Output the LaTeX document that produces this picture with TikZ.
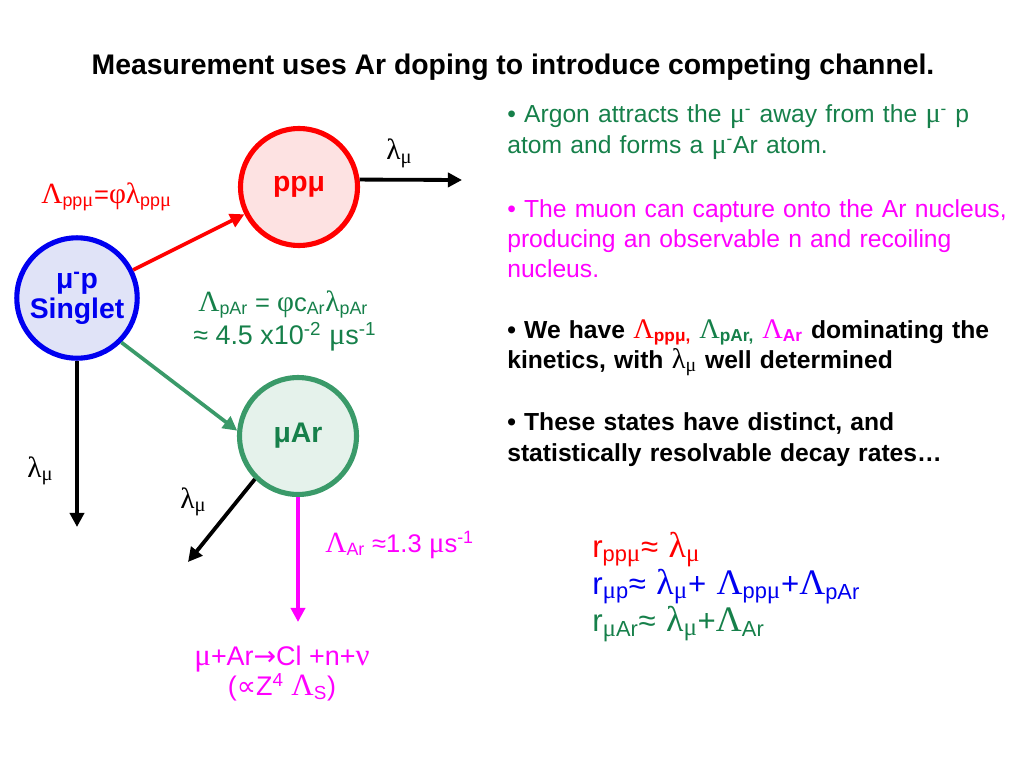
\documentclass[tikz,border=0pt]{standalone}
\usepackage{fontspec}
\setmainfont{Liberation Sans}
\newfontfamily\grk[Scale=1.15]{Liberation Serif}
\newfontfamily\symfont{DejaVu Sans}
\usetikzlibrary{positioning,arrows.meta}

\definecolor{pinkfill}{HTML}{FDE2E2}
\definecolor{bluefill}{HTML}{E0E3F7}
\definecolor{greenfill}{HTML}{E5F2EB}
\definecolor{ringgreen}{HTML}{3A9A69}
\definecolor{textgreen}{HTML}{16804A}
\definecolor{pureblue}{HTML}{0000F0}
\definecolor{capmagenta}{HTML}{FF00FF}

\newcommand{\gk}[1]{{\grk\mdseries #1}}
\newcommand{\lo}[1]{\textsubscript{#1}}
\newcommand{\hi}[1]{\textsuperscript{#1}}

\begin{document}
\begin{tikzpicture}[x=0.0248cm, y=-0.0248cm,
    atom/.style={circle, line width=3.6pt, minimum size=2.9cm, align=center,
      font=\bfseries\fontsize{20}{20.5}\selectfont},
    decay/.style={line width=2.7pt, -{Triangle[length=10pt,width=10pt]}},
    lab/.style={anchor=base west, inner sep=0pt, font=\fontsize{18}{21}\selectfont},
    body/.style={anchor=base west, inner sep=0pt, align=left, text width=13cm,
      font=\fontsize{17.4}{21.2}\selectfont}]
  \useasboundingbox (0,0) rectangle (1024,768);

  % Add title
  \node[anchor=base] (title) at (513,75)
    {\bfseries\fontsize{20}{24}\selectfont Measurement uses Ar doping to introduce competing channel.};

  % Create the three atomic states
  \node[atom, draw=red, fill=pinkfill, text=red] (ppm) at (299,187) {ppμ};
  \node[atom, draw=pureblue, fill=bluefill, text=pureblue] (sing) at (77,298) {μ\hi{-}p\\Singlet};
  \node[atom, draw=ringgreen, fill=greenfill, text=textgreen] (mar) at (298,436) {μAr};

  \coordinate (ppmend) at (462,180);
  \coordinate (singend) at (77,527);
  \coordinate (marend) at (188,562);
  \coordinate (capend) at (298,622);

  % Add transfer and decay arrows
  \draw[decay, red, line width=2.6pt] (sing) -- (ppm);
  \draw[decay, ringgreen, line width=2.6pt] (sing.-45) -- (mar.175);
  \draw[decay] (ppm.7) -- (ppmend);
  \draw[decay] (sing) -- (singend);
  \draw[decay] (mar.-135) -- (marend);
  \draw[decay, capmagenta, line width=3.3pt] (mar) -- (capend);

  % Add rate labels
  \node[lab] (lamppm) at (386,160) {\gk{λ}\lo{\gk{μ}}};
  \node[lab] (lamsing) at (27,477) {\gk{λ}\lo{\gk{μ}}};
  \node[lab] (lammar) at (180,508) {\gk{λ}\lo{\gk{μ}}};
  \node[lab, text=red] (rateppm) at (41,203)
    {\gk{Λ}\lo{pp\gk{μ}}=\gk{φλ}\lo{pp\gk{μ}}};
  \node[lab, text=textgreen] (ratepar) at (198,311)
    {\gk{Λ}\lo{pAr} = \gk{φ}c\lo{Ar}\gk{λ}\lo{pAr}};
  \node[lab, text=textgreen, font=\fontsize{19}{21}\selectfont] (ratevalue) at (193,344)
    {≈ 4.5 x10\hi{-2} \gk{μ}s\hi{-1}};
  \node[lab, text=capmagenta] (ratear) at (325,552)
    {\gk{Λ}\lo{Ar} ≈1.3 \gk{μ}s\hi{-1}};
  \node[lab, anchor=base, text=capmagenta, font=\fontsize{19}{21}\selectfont] (capture) at (282,665)
    {\gk{μ}+Ar{\symfont →}Cl +n+\gk{ν}};
  \node[lab, anchor=base, text=capmagenta, font=\fontsize{19}{21}\selectfont] (scaling) at (282,695)
    {({\symfont ∝}Z\hi{4} \gk{Λ}\lo{S})};

  % Add explanation bullets
  \node[body, text=textgreen] (argon) at (507,123)
    {• Argon attracts the \gk{μ}\hi{-} away from the \gk{μ}\hi{-} p\\
     atom and forms a \gk{μ}\hi{-}Ar atom.};
  \node[body, text=capmagenta] (nucleus) at (507,217)
    {• The muon can capture onto the Ar nucleus,\\
     producing an observable n and recoiling\\
     nucleus.};
  \node[body, font=\bfseries\fontsize{17.4}{21.2}\selectfont] (kinetics) at (507,338)
    {• We have {\color{red}\gk{Λ}\lo{ppμ,}} {\color{textgreen}\gk{Λ}\lo{pAr,}}
     {\color{capmagenta}\gk{Λ}\lo{Ar}} dominating the\\
     kinetics, with \gk{λ}\lo{\gk{μ}} well determined};
  \node[body, font=\bfseries\fontsize{17.4}{22.5}\selectfont] (states) at (507,430)
    {• These states have distinct, and\\
     statistically resolvable decay rates…};

  % Add effective rates
  \node[body, font=\fontsize{22}{26.2}\selectfont] (rates) at (592,557)
    {{\color{red}r\lo{pp\gk{μ}}≈ \gk{λ}\lo{\gk{μ}}}\\
     {\color{pureblue}r\lo{\gk{μ}p}≈ \gk{λ}\lo{\gk{μ}}+ \gk{Λ}\lo{pp\gk{μ}}+\gk{Λ}\lo{pAr}}\\
     {\color{textgreen}r\lo{\gk{μ}Ar}≈ \gk{λ}\lo{\gk{μ}}+\gk{Λ}\lo{Ar}}};
\end{tikzpicture}
\end{document}
